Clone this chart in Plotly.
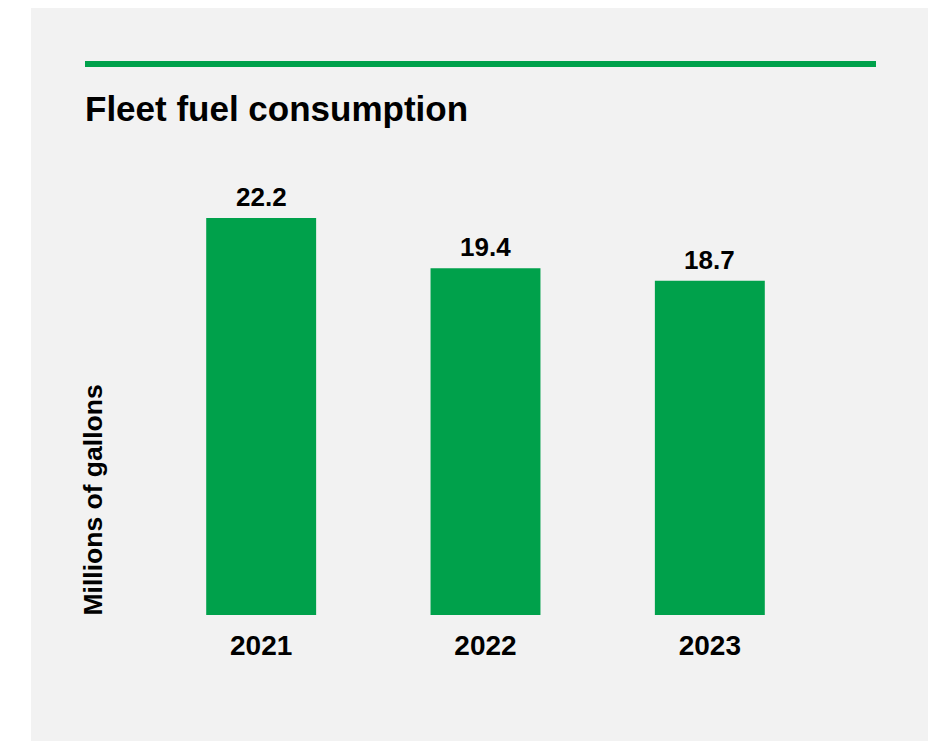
import plotly.graph_objects as go

years = ["2021", "2022", "2023"]
values = [22.2, 19.4, 18.7]
value_labels = ["22.2", "19.4", "18.7"]
title_text = "Fleet fuel consumption"
y_title = "Millions of gallons"

W, H = 936, 741
OFF = 8  # page body margin
# plot area in screen px
SL, SR, ST, SB = 149, 822, 168, 615
L, R, T, B = SL - OFF, SR - OFF, ST - OFF, SB - OFF
GREEN = "#00A14B"
GRAY = "#F2F2F2"
FONT = "Liberation Sans"


def px_x(sx):
    return (sx - SL) / (SR - SL)


def px_y(sy):
    return (SB - sy) / (SB - ST)


fig = go.Figure()
fig.add_trace(go.Bar(
    x=years, y=values,
    marker=dict(color=GREEN, line=dict(width=0)), width=0.49,
    hoverinfo="skip",
))

annotations = [
    dict(text=lab, x=i, y=v, xref="x", yref="y", xanchor="center", yanchor="bottom",
         yshift=4, showarrow=False,
         font=dict(family=FONT, size=26, color="#000000", weight=700))
    for i, (v, lab) in enumerate(zip(values, value_labels))
]
annotations.append(
    dict(text=y_title, xref="paper", yref="paper", x=px_x(92), y=0, yshift=-3,
         xanchor="center", yanchor="bottom", textangle=-90, showarrow=False,
         font=dict(family=FONT, size=26.5, color="#000000", weight=700))
)

fig.update_layout(
    width=W, height=H,
    margin=dict(l=L, r=W - R, t=T, b=H - B, pad=0),
    paper_bgcolor="#FFFFFF", plot_bgcolor="rgba(0,0,0,0)",
    showlegend=False,
    font=dict(family=FONT, color="#000000"),
    title=dict(text=title_text, xref="container", yref="container",
               x=(85 - OFF) / W, xanchor="left", y=1 - 88 / H, yanchor="top",
               font=dict(family=FONT, size=35, color="#000000", weight=700)),
    xaxis=dict(type="category", range=[-0.5, 2.5], showgrid=False, zeroline=False,
               showline=False, ticks="",
               tickfont=dict(family=FONT, size=28, color="#000000", weight=700),
               ticklabelstandoff=11, fixedrange=True),
    yaxis=dict(range=[0, 25], visible=False, fixedrange=True),
    shapes=[
        dict(type="rect", xref="paper", yref="paper", layer="below",
             x0=px_x(31), x1=px_x(W + 20), y0=px_y(H + 20), y1=px_y(8),
             fillcolor=GRAY, line=dict(width=0)),
        dict(type="line", xref="paper", yref="paper",
             x0=px_x(85), x1=px_x(876), y0=px_y(64), y1=px_y(64),
             line=dict(color=GREEN, width=6)),
    ],
    annotations=annotations,
)

fig.write_html("out.html")
